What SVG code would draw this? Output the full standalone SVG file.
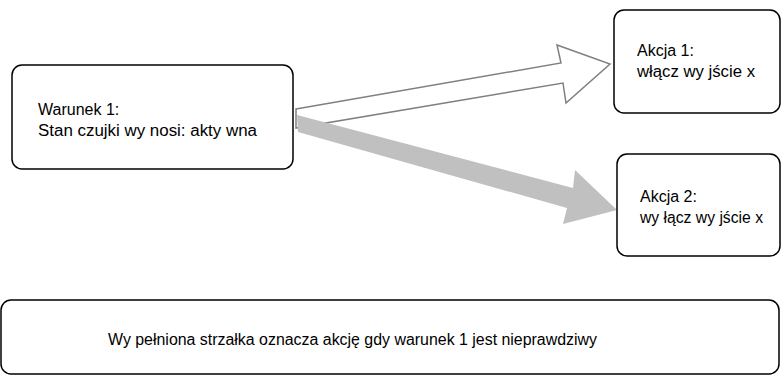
<svg xmlns="http://www.w3.org/2000/svg" width="781" height="376" viewBox="0 0 781 376">
<style>
.box{fill:#fff;stroke:#000;stroke-width:1.5}
.t{font-family:"Liberation Sans",Arial,sans-serif;font-size:16px;fill:#000}
.hollow{fill:#fff;stroke:#808080;stroke-width:1.5;stroke-linejoin:miter}
.filled{fill:#c0c0c0;stroke:none}
</style>
<rect width="781" height="376" fill="#fff"/>
<g id="connectors">
<polygon class="hollow" points="296,109 561,63 557,45 610,64 566,103 563,83 296,128"/>
<polygon class="filled" points="297,115 573,188 575,170 617,210 563,224 567,208 298,132"/>
</g>
<g id="warunek1">
<rect class="box" x="12" y="65" width="281" height="104" rx="10"/>
<text class="t" x="38" y="115">Warunek 1:</text>
<text class="t" x="38" y="136" textLength="219" lengthAdjust="spacingAndGlyphs">Stan czujki wy nosi: akty wna</text>
</g>
<g id="akcja1">
<rect class="box" x="614" y="10" width="166" height="103" rx="10"/>
<text class="t" x="637" y="56">Akcja 1:</text>
<text class="t" x="637" y="77" textLength="118" lengthAdjust="spacingAndGlyphs">włącz wy jście x</text>
</g>
<g id="akcja2">
<rect class="box" x="617" y="154" width="163" height="102" rx="10"/>
<text class="t" x="640" y="202">Akcja 2:</text>
<text class="t" x="640" y="223" textLength="123" lengthAdjust="spacingAndGlyphs">wy łącz wy jście x</text>
</g>
<g id="legenda">
<rect class="box" x="1" y="300" width="778" height="74" rx="10"/>
<text class="t" x="108" y="345" font-size="15" textLength="489" lengthAdjust="spacingAndGlyphs">Wy pełniona strzałka oznacza akcję gdy  warunek 1 jest nieprawdziwy</text>
</g>
</svg>
